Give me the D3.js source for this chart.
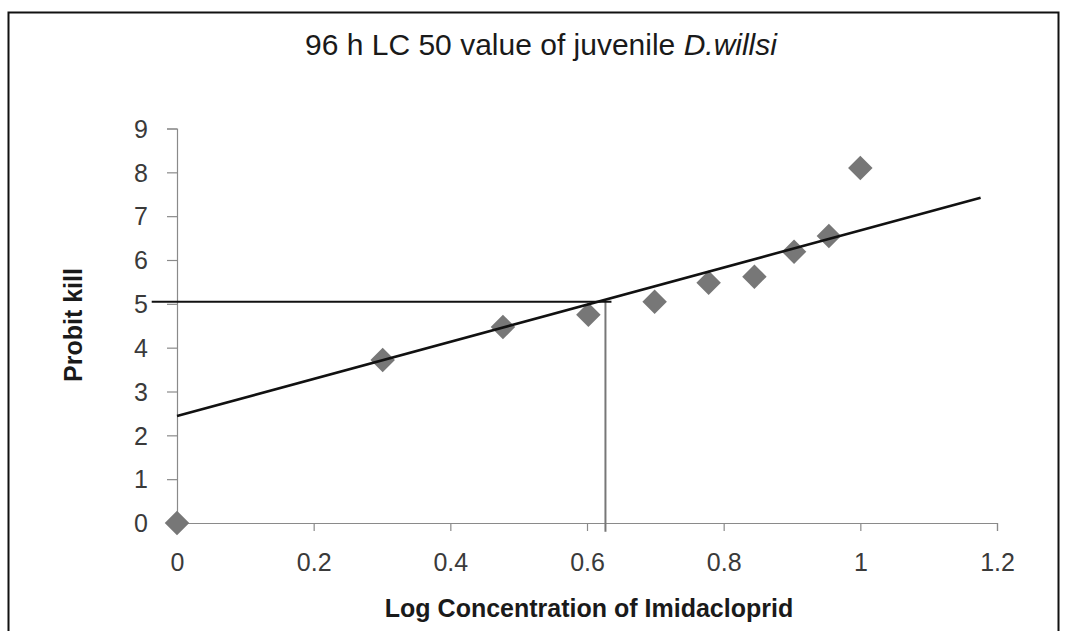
<!DOCTYPE html>
<html>
<head>
<meta charset="utf-8">
<script src="https://cdnjs.cloudflare.com/ajax/libs/d3/7.8.5/d3.min.js"></script>
<style>
  body { margin: 0; background: #fff; }
  text { font-family: "Liberation Sans", sans-serif; }
</style>
</head>
<body>
<div id="chart"></div>
<script>
// data
// ----------------------------------------
var logConc = [0, 0.301, 0.477, 0.602, 0.699, 0.778, 0.845, 0.903, 0.954, 1];
var probit  = [0, 3.72, 4.47, 4.75, 5.05, 5.48, 5.62, 6.19, 6.55, 8.1];

// fitted line ends and LC50 guide
var fitX = [0, 1.176];
var fitY = [2.44, 7.42];
var lc50X = 0.627, lc50Y = 5.05;
var guideStartX = -0.037;

var xTicks = [0, 0.2, 0.4, 0.6, 0.8, 1, 1.2];
var yTicks = [0, 1, 2, 3, 4, 5, 6, 7, 8, 9];

var width = 1068, height = 631;
var margin = {top: 128.5, right: 71, bottom: 108, left: 177};

var svg = d3.select("#chart")
	.append("svg")
	.attr("width", width)
	.attr("height", height);

// frame
svg.append("rect")
	.attr("x", 8.5).attr("y", 12.5)
	.attr("width", 1050).attr("height", 640)
	.attr("fill", "#fff")
	.attr("stroke", "#111")
	.attr("stroke-width", 2);

var x = d3.scaleLinear().domain([0, 1.2]).range([margin.left, width - margin.right]);
var y = d3.scaleLinear().domain([0, 9]).range([height - margin.bottom, margin.top]);

// axes
var xAxis = svg.append("g")
	.attr("transform", "translate(0," + y(0) + ")")
	.call(d3.axisBottom(x).tickValues(xTicks).tickSize(8).tickPadding(31)
		.tickFormat(function(d){ return String(d); }));

var yAxis = svg.append("g")
	.attr("transform", "translate(" + x(0) + ",0)")
	.call(d3.axisLeft(y).tickValues(yTicks).tickSize(10).tickPadding(19));

[xAxis, yAxis].forEach(function(a){
	a.attr("font-size", 25).attr("font-family", "Liberation Sans, sans-serif");
	a.select(".domain").attr("stroke", "#8a8a8a").attr("stroke-width", 1.2);
	a.selectAll(".tick line").attr("stroke", "#8a8a8a").attr("stroke-width", 1.2);
	a.selectAll(".tick text").attr("fill", "#3a3a3a");
});
xAxis.selectAll(".tick text").attr("dy", "0.35em");
yAxis.selectAll(".tick text").attr("dy", "0.35em");

// LC50 guide lines
svg.append("line")
	.attr("x1", x(lc50X)).attr("x2", x(lc50X))
	.attr("y1", y(lc50Y)).attr("y2", y(-0.2))
	.attr("stroke", "#777").attr("stroke-width", 2);

svg.append("line")
	.attr("x1", x(guideStartX)).attr("x2", x(lc50X) + 6)
	.attr("y1", y(lc50Y)).attr("y2", y(lc50Y))
	.attr("stroke", "#111").attr("stroke-width", 2);

// points
var diamond = d3.symbol().type(d3.symbolSquare).size(300);
svg.selectAll(".pt")
	.data(logConc.map(function(d, i){ return [d, probit[i]]; }))
	.enter().append("path")
	.attr("class", "pt")
	.attr("d", diamond)
	.attr("transform", function(d){ return "translate(" + x(d[0]) + "," + y(d[1]) + ") rotate(45)"; })
	.attr("fill", "#777");

// fitted line
var line = d3.line()
	.x(function(d){ return x(d[0]); })
	.y(function(d){ return y(d[1]); });

svg.append("path")
	.datum(fitX.map(function(d, i){ return [d, fitY[i]]; }))
	.attr("d", line)
	.attr("fill", "none")
	.attr("stroke", "#111")
	.attr("stroke-width", 2.5);

// titles
var title = svg.append("text")
	.attr("x", 541).attr("y", 55)
	.attr("text-anchor", "middle")
	.attr("fill", "#1a1a1a")
	.style("font-size", "30px");
title.append("tspan").text("96 h LC 50 value of juvenile  ");
title.append("tspan").attr("font-style", "italic").text("D.willsi");

svg.append("text")
	.attr("x", 589).attr("y", 617)
	.attr("text-anchor", "middle")
	.attr("fill", "#1a1a1a")
	.attr("font-weight", "bold")
	.style("font-size", "25px")
	.text("Log Concentration of Imidacloprid");

svg.append("text")
	.attr("transform", "translate(82," + 325 + ") rotate(-90)")
	.attr("text-anchor", "middle")
	.attr("fill", "#1a1a1a")
	.attr("font-weight", "bold")
	.style("font-size", "25px")
	.text("Probit kill");
</script>
</body>
</html>
